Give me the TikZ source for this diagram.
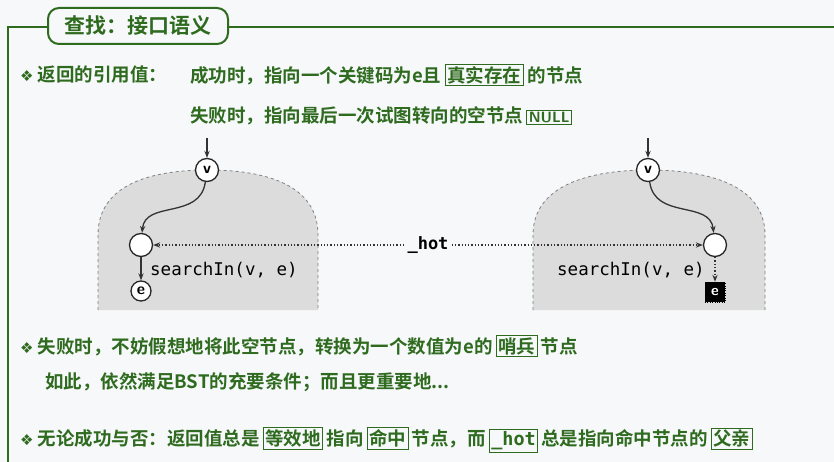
\documentclass[tikz,border=0pt]{standalone}
\usepackage{fontspec}
\newfontfamily\cjk{Noto Sans CJK SC}[BoldFont={* Bold}]
\setmonofont{DejaVu Sans Mono}
\newfontfamily\sym{DejaVu Sans}
\usetikzlibrary{arrows.meta}
\definecolor{gr}{HTML}{2F6B1F}
\definecolor{bg}{HTML}{F6F8FA}
\definecolor{dome}{HTML}{DCDCDC}
\newcommand{\bx}[1]{{\setlength\fboxsep{1.5pt}\setlength\fboxrule{1pt}\fcolorbox{gr}{bg}{#1}}}
\newcommand{\dia}{{\sym\fontsize{15}{15}\selectfont ❖}}
\begin{document}
\begin{tikzpicture}[x=1pt,y=-1pt,
  txt/.style={anchor=west,inner sep=0,text=gr,font=\cjk\bfseries\fontsize{18.5}{20}\selectfont},
  nd/.style={circle,draw=black!85,fill=white,line width=1.3pt,minimum size=23pt,inner sep=0,font=\sffamily\bfseries\fontsize{16}{16}\selectfont},
  cd/.style={anchor=west,inner sep=0,font=\ttfamily\fontsize{17.5}{17.5}\selectfont},
  ar/.style={-{Stealth[length=7pt]},line width=1.3pt,black!80},
  dot/.style={-{Stealth[length=7pt]},line width=1.3pt,black!80,dotted},
  domes/.style={fill=dome,draw=gray,dashed,line width=0.8pt}]
\useasboundingbox (0,0) rectangle (834,462);
\fill[bg] (0,0) rectangle (834,462);
% frame
\draw[gr,line width=2pt] (8,462) -- (8,27) -- (834,27);
\node[draw=gr,line width=2pt,fill=bg,rounded corners=11pt,minimum width=180pt,minimum height=36pt,text=gr,font=\cjk\bfseries\fontsize{21}{22}\selectfont] (title) at (138,26) {查找：接口语义};
% texts
\node[txt] (t1) at (20,75) {\dia\ 返回的引用值：};
\node[txt] (t2) at (190,75) {成功时，指向一个关键码为e且\,\bx{真实存在}\ 的节点};
\node[txt] (t3) at (190,116) {失败时，指向最后一次试图转向的空节点\,\bx{\sffamily\bfseries\fontsize{15}{15}\selectfont NULL}};
\node[txt] (t4) at (20,346) {\dia\ 失败时，不妨假想地将此空节点，转换为一个数值为e的\,\bx{哨兵}\,节点};
\node[txt] (t5) at (45,382) {如此，依然满足BST的充要条件；而且更重要地...};
\node[txt] (t6) at (20,440) {\dia\ 无论成功与否：返回值总是\,\bx{等效地}\,指向\,\bx{命中}\,节点，而\,\bx{\ttfamily\_hot}\,总是指向命中节点的\,\bx{父亲}};
% domes
\path[domes] (98,310) -- (98,235) .. controls (98,185) and (150,170) .. (208,170) .. controls (266,170) and (318,185) .. (318,235) -- (318,310);
\path[domes] (533,310) -- (533,235) .. controls (533,185) and (590,170) .. (649,170) .. controls (708,170) and (765,185) .. (765,235) -- (765,310);
% left
\coordinate (lin) at (207,138);
\node[nd] (lv) at (207,170) {v};
\node[nd] (lc) at (141,245) {};
\node[nd,minimum size=20pt] (le) at (141,291) {e};
\node[cd] (ls) at (150,270) {searchIn(v, e)};
\draw[ar] (lin) -- (lv);
\draw[ar] (lv) .. controls (200,220) and (145,200) .. (lc);
\draw[ar] (lc) -- (le);
% right
\coordinate (rin) at (648,138);
\node[nd] (rv) at (648,170) {v};
\node[nd] (rc) at (715,245) {};
\node[draw=black,dotted,fill=black,text=white,minimum size=20pt,inner sep=0,font=\sffamily\bfseries\fontsize{15}{15}\selectfont] (re) at (715,292) {e};
\node[cd] (rs) at (557,270) {searchIn(v, e)};
\draw[ar] (rin) -- (rv);
\draw[ar] (rv) .. controls (655,220) and (710,200) .. (rc);
\draw[dot] (rc) -- (re);
% hot
\node[inner sep=3pt,fill=bg,font=\ttfamily\bfseries\fontsize{17}{17}\selectfont] (hot) at (428,245) {\_hot};
\draw[dot] (hot) -- (lc);
\draw[dot] (hot) -- (rc);
\end{tikzpicture}
\end{document}
